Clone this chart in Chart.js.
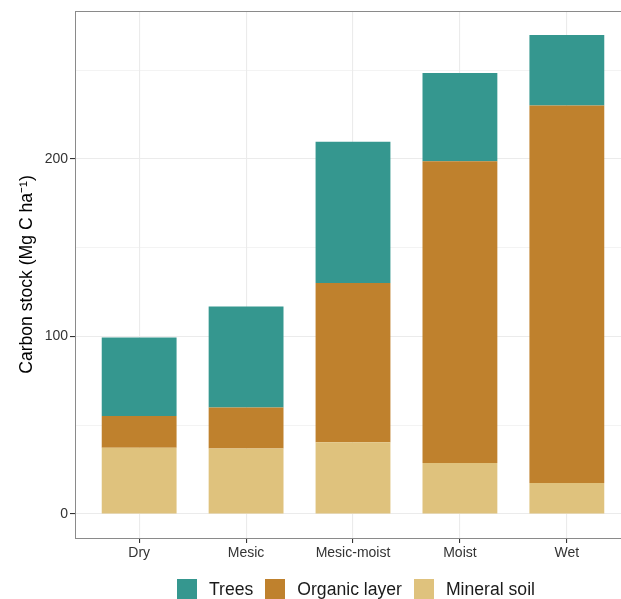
<!DOCTYPE html>
<html>
<head>
<meta charset="utf-8">
<script src="https://cdn.jsdelivr.net/npm/chart.js@4"></script>
<style>
  html, body { margin: 0; padding: 0; background: #fff; overflow: hidden; }
  #wrap { position: relative; width: 631px; height: 599px; }
  #legend {
    position: absolute; left: 177px; top: 579px;
    display: flex; align-items: center;
    font-family: "Liberation Sans", Arial, sans-serif; font-size: 17.6px; color: #1a1a1a;
  }
  #legend .sw { width: 20px; height: 20px; margin-right: 12px; }
  #legend .lb { margin-right: 12px; line-height: 20px; }
</style>
</head>
<body>
<div id="wrap">
  <canvas id="carbon_barchart"></canvas>
  <div id="legend"></div>
</div>
<script>
/* 데이터 */
const categories = ['Dry', 'Mesic', 'Mesic-moist', 'Moist', 'Wet'];
const mineralSoil = [37.3, 36.9, 40.5, 28.7, 17.5];
const organicLayer = [18.0, 23.1, 89.6, 170.1, 212.6];
const trees = [44.1, 56.9, 79.7, 49.7, 39.8];
const yTickLabels = [0, 100, 200];

const seriesNames = ['Trees', 'Organic layer', 'Mineral soil'];
const seriesColors = ['#35978f', '#bf812d', '#dfc27d'];

// 카테고리 위치 (1..5)
function toPoints(values) {
  return values.map((v, i) => ({ x: i + 1, y: v }));
}

// y축 범위 : ggplot 처럼 5% 여유
let totals = categories.map((c, i) => mineralSoil[i] + organicLayer[i] + trees[i]);
let maxTotal = Math.max(...totals);

const fontFamily = '"Liberation Sans", Arial, sans-serif';

// 패널 테두리
const panelBorder = {
  id: 'panelBorder',
  afterDraw(chart) {
    const a = chart.chartArea;
    const ctx = chart.ctx;
    ctx.save();
    ctx.strokeStyle = '#8a8a8a';
    ctx.lineWidth = 1;
    ctx.strokeRect(Math.round(a.left) + 0.5, Math.round(a.top) + 0.5,
      Math.round(a.right - a.left), Math.round(a.bottom - a.top));
    ctx.restore();
  }
};

new Chart(document.getElementById('carbon_barchart'), {
  type: 'bar',
  data: {
    datasets: [{
      label: 'Mineral soil',
      data: toPoints(mineralSoil),
      backgroundColor: seriesColors[2]
    },
    {
      label: 'Organic layer',
      data: toPoints(organicLayer),
      backgroundColor: seriesColors[1]
    },
    {
      label: 'Trees',
      data: toPoints(trees),
      backgroundColor: seriesColors[0]
    }]
  },
  options: {
    responsive: true,
    maintainAspectRatio: false,
    animation: false,
    categoryPercentage: 1,
    barPercentage: 0.7,
    layout: { padding: { top: 11, right: 0, bottom: 0, left: 0 } },
    plugins: {
      legend: { display: false },
      tooltip: { enabled: false }
    },
    scales: {
      x: {
        type: 'linear',
        stacked: true,
        offset: false,
        min: 0.4,
        max: 5.6,
        afterFit: function(scale) { scale.height = 61; },
        border: { display: false },
        grid: {
          offset: false,
          color: '#ebebeb',
          lineWidth: 1.1,
          tickColor: '#333333',
          tickLength: 5
        },
        ticks: {
          stepSize: 1,
          includeBounds: false,
          padding: 2,
          color: '#333333',
          font: { family: fontFamily, size: 14 },
          callback: function(value) {
            return categories[value - 1] || '';
          }
        }
      },
      y: {
        stacked: true,
        min: -0.05 * maxTotal,
        max: 1.05 * maxTotal,
        afterFit: function(scale) { scale.width = 75; },
        border: { display: false },
        grid: {
          color: '#ebebeb',
          lineWidth: function(c) { return c.tick && c.tick.value % 100 === 0 ? 1.1 : 0.6; },
          tickColor: function(c) { return c.tick && c.tick.value % 100 === 0 ? '#333333' : 'rgba(0,0,0,0)'; },
          tickLength: 5
        },
        title: {
          display: true,
          text: 'Carbon stock (Mg C ha⁻¹)',
          color: '#000000',
          font: { family: fontFamily, size: 17.6 },
          padding: { top: 17, bottom: 0 }
        },
        ticks: {
          stepSize: 50,
          includeBounds: false,
          padding: 2,
          color: '#333333',
          font: { family: fontFamily, size: 14 },
          callback: function(value) {
            return yTickLabels.includes(value) ? value : '';
          }
        }
      }
    }
  },
  plugins: [panelBorder]
}); // carbon_barchart

// 범례
const legendBox = document.getElementById('legend');
seriesNames.forEach((name, i) => {
  const sw = document.createElement('span');
  sw.className = 'sw';
  sw.style.background = seriesColors[i];
  const lb = document.createElement('span');
  lb.className = 'lb';
  lb.textContent = name;
  legendBox.appendChild(sw);
  legendBox.appendChild(lb);
});
</script>
</body>
</html>
